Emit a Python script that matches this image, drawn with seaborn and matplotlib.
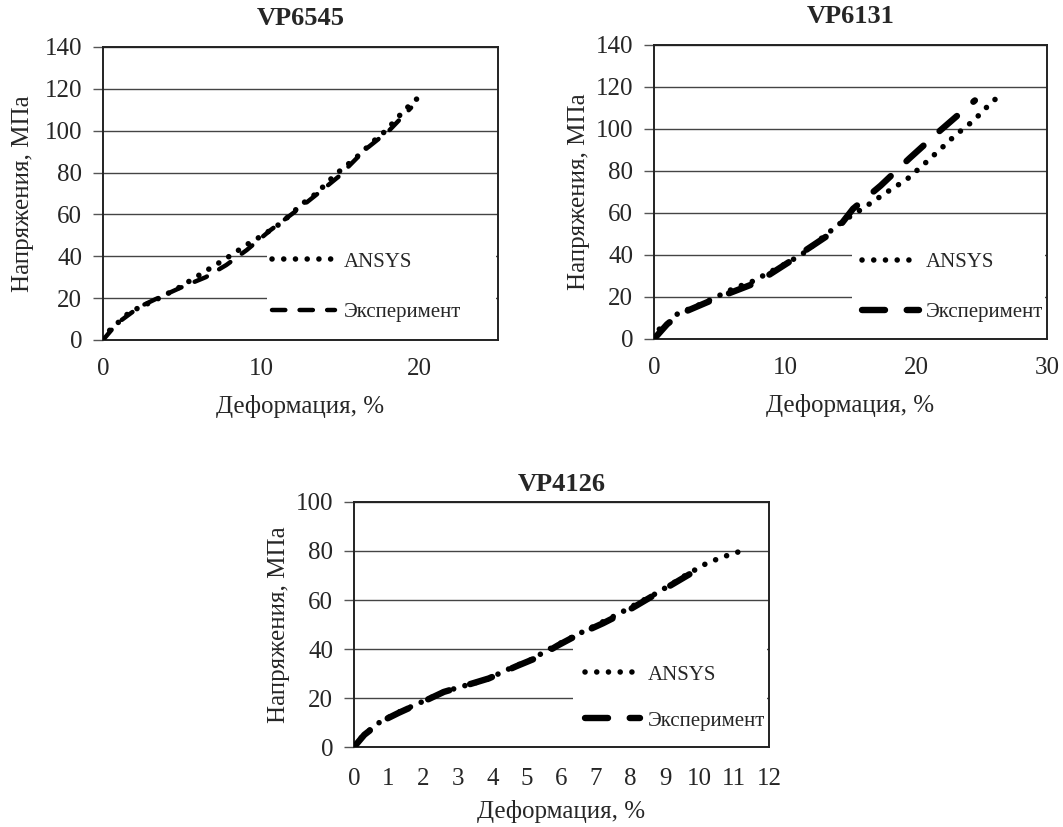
import numpy as np
import pandas as pd
import matplotlib
matplotlib.use("Agg")
import matplotlib.pyplot as plt
from matplotlib.patches import Rectangle
import seaborn as sns

titles = ["VP6545", "VP6131", "VP4126"]
xlabel = "Деформация, %"
ylabel = "Напряжения, МПа"
series_names = ["ANSYS", "Эксперимент"]

ansys1_x = [0, 0.44, 1.7, 3.3, 4.8, 6.3, 7.8, 9.2, 10.1, 11.3, 12.6, 13.5, 14.7, 16.0, 17.2, 17.9, 19.1, 20.2]
ansys1_y = [0, 4.8, 13.4, 19, 25, 32, 39, 46, 50, 56, 65, 70, 79, 87, 95.5, 100, 110, 117.5]
exp1_x = [0, 0.9, 2.3, 3.6, 5.0, 6.5, 7.8, 9.1, 10.6, 12.1, 13.6, 14.9, 16.6, 18.1, 19.5]
exp1_y = [0, 8, 15.8, 20.5, 25.3, 30, 35.8, 43, 52.5, 61, 70, 78, 91, 100, 111]

ansys2_x = [0, 0.2, 1.2, 1.8, 4.0, 6.3, 7.3, 10.4, 11.7, 12.4, 14.4, 15.9, 17.8, 19.3, 20.5, 21.8, 23.0, 24.4, 25.5, 26.2]
ansys2_y = [0, 3.8, 8, 12, 17.7, 24.7, 26.7, 37, 42, 46, 56, 62, 70, 76, 82.6, 90, 97, 104, 111, 115]
exp2_x = [0, 1.0, 2.0, 5.0, 7.9, 10.4, 11.4, 13.2, 14.2, 15.2, 17.3, 19.5, 21.8, 24.5]
exp2_y = [0, 7, 12, 20, 27, 37, 41.5, 49, 54, 62, 73, 86, 99, 113.6]

ansys3_x = [0, 0.27, 0.75, 1.24, 1.9, 2.5, 3.06, 3.8, 4.6, 5.1, 5.75, 6.33, 6.9, 7.7, 8.27, 8.65, 9.13, 9.6, 10.2, 10.67, 11.2]
ansys3_y = [0, 4.9, 10.2, 13.9, 18, 22, 24.5, 27.3, 32.7, 35.5, 40.8, 45, 49, 54.7, 59.2, 62, 66, 70.2, 75, 77.6, 80]
exp3_x = [0, 0.3, 0.8, 1.3, 2.0, 2.6, 3.2, 3.9, 4.7, 5.3, 5.9, 6.5, 7.2, 7.9, 8.5, 9.1, 9.7]
exp3_y = [0, 5, 10.5, 14, 18.5, 22.5, 25, 28, 33, 36.5, 41.5, 46, 50.5, 55.5, 60.5, 65.5, 70.5]

x_limits = [(0, 25), (0, 30), (0, 12)]
x_ticks = [[0, 10, 20], [0, 10, 20, 30], list(range(0, 13))]
y_limits = [(0, 140), (0, 140), (0, 100)]
y_ticks = [list(range(0, 141, 20)), list(range(0, 141, 20)), list(range(0, 101, 20))]

# ── Стиль ───────────────────────────────────────────────────
sns.set_theme(style="white")
plt.rcParams["font.family"] = ["Liberation Serif", "DejaVu Serif"]
plt.rcParams["axes.linewidth"] = 1.4
plt.rcParams["axes.edgecolor"] = "#222222"

fig = plt.figure(figsize=(10.63, 8.27), dpi=100)
axes = [
    fig.add_axes([0.0969, 0.5889, 0.3716, 0.3543]),
    fig.add_axes([0.6152, 0.5901, 0.3697, 0.3555]),
    fig.add_axes([0.3330, 0.0967, 0.3904, 0.2963]),
]

data = [
    (ansys1_x, ansys1_y, exp1_x, exp1_y),
    (ansys2_x, ansys2_y, exp2_x, exp2_y),
    (ansys3_x, ansys3_y, exp3_x, exp3_y),
]

# стили линий: в первом графике короткий пунктир, в остальных — длинный
exp_dash = [(0, (3.0, 3.2)), (0, (3.6, 3.4)), (0, (3.6, 3.4))]
exp_lw = [3.2, 4.6, 4.6]

# положение легенды, белой подложки и отступы подписей
legend_pos = [(0.428, 0.30), (0.529, 0.295), (0.557, 0.335)]
legend_hl = [3.0, 2.75, 2.65]
legend_tp = [0.43, 0.34, 0.38]
legend_ls = [1.47, 1.47, 1.27]
blank_box = [(0.415, 0.37), (0.504, 0.37), (0.528, 0.5)]
title_pad = [16, 16, 8]
xtick_pad = [13, 13, 15]
xlabel_pad = [11, 11, 7]
ylabel_pad = [8, 4, 4]

for i, ax in enumerate(axes):
    ax_x, ax_y, ex_x, ex_y = data[i]

    sns.lineplot(x=ax_x, y=ax_y, ax=ax, color="black", linewidth=4.0,
                 linestyle=(0, (0.01, 2.1)), dash_capstyle="round",
                 sort=False, estimator=None, label=series_names[0], zorder=3)
    sns.lineplot(x=ex_x, y=ex_y, ax=ax, color="black", linewidth=exp_lw[i],
                 linestyle=exp_dash[i], dash_capstyle="round",
                 sort=False, estimator=None, label=series_names[1], zorder=3)

    ax.set_xlim(*x_limits[i])
    ax.set_ylim(*y_limits[i])
    ax.set_xticks(x_ticks[i])
    ax.set_yticks(y_ticks[i])
    ax.tick_params(axis="x", length=0, labelsize=18, pad=xtick_pad[i])
    ax.tick_params(axis="y", length=7, width=1, direction="out", left=True,
                   labelsize=18, pad=8, color="#555555")

    ax.yaxis.grid(True, color="#444444", linewidth=1.0)
    ax.xaxis.grid(False)
    ax.set_axisbelow(True)

    # белая подложка под легендой (прерывает линии сетки)
    bx, bh = blank_box[i]
    ax.add_patch(Rectangle((bx, 0.004), 1 - bx - 0.004, bh, transform=ax.transAxes,
                           facecolor="white", edgecolor="none", zorder=1))

    ax.set_title(titles[i], fontsize=19, fontweight="bold", pad=title_pad[i])
    ax.set_xlabel(xlabel, fontsize=18, labelpad=xlabel_pad[i])
    ax.set_ylabel(ylabel, fontsize=18, labelpad=ylabel_pad[i])

    leg = ax.legend(loc="upper left", bbox_to_anchor=legend_pos[i],
                    frameon=False, fontsize=15, handlelength=legend_hl[i],
                    handletextpad=legend_tp[i], labelspacing=legend_ls[i],
                    borderpad=0, borderaxespad=0)

fig.savefig("out.png", dpi=100, facecolor="white")
